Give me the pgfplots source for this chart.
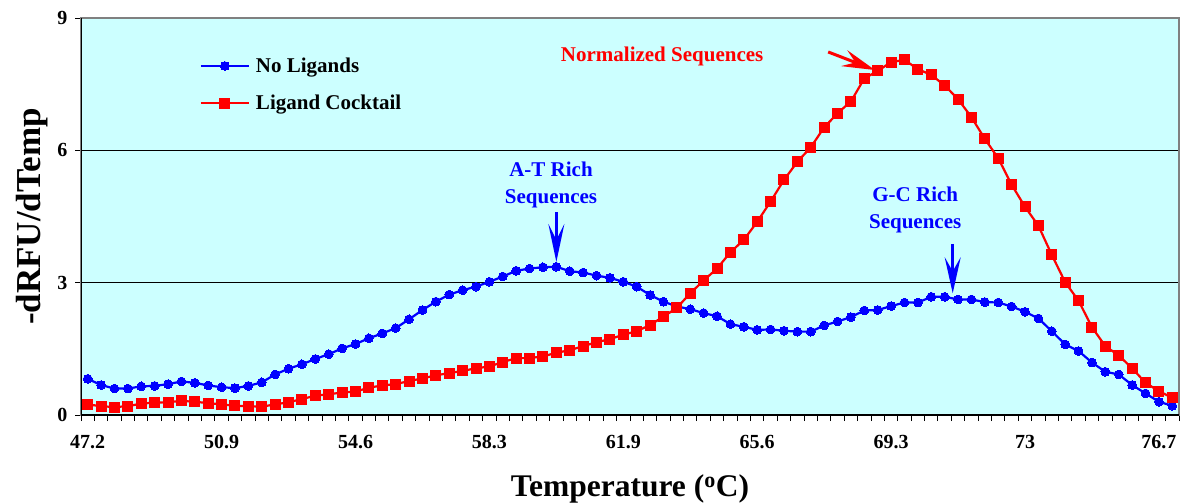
\documentclass[border=0pt]{standalone}
\usepackage{fontspec}
\setmainfont{Liberation Serif}
\usepackage{pgfplots}
\pgfplotsset{compat=1.18}
\usetikzlibrary{arrows.meta}
\definecolor{bgcyan}{RGB}{204,255,255}
\definecolor{axgray}{RGB}{128,128,128}

\pgfplotstableread{
i v
0 0.82
1 0.68
2 0.60
3 0.60
4 0.65
5 0.66
6 0.70
7 0.76
8 0.73
9 0.67
10 0.63
11 0.61
12 0.66
13 0.74
14 0.92
15 1.05
16 1.15
17 1.27
18 1.38
19 1.51
20 1.61
21 1.74
22 1.85
23 1.97
24 2.17
25 2.38
26 2.57
27 2.73
28 2.83
29 2.91
30 3.02
31 3.14
32 3.27
33 3.32
34 3.35
35 3.36
36 3.26
37 3.23
38 3.16
39 3.11
40 3.02
41 2.91
42 2.72
43 2.57
44 2.46
45 2.40
46 2.31
47 2.24
48 2.06
49 2.00
50 1.93
51 1.94
52 1.91
53 1.89
54 1.89
55 2.03
56 2.12
57 2.22
58 2.37
59 2.38
60 2.47
61 2.55
62 2.55
63 2.68
64 2.68
65 2.62
66 2.62
67 2.56
68 2.55
69 2.46
70 2.34
71 2.19
72 1.90
73 1.60
74 1.45
75 1.19
76 0.98
77 0.92
78 0.68
79 0.49
80 0.30
81 0.21
}\noligands

\pgfplotstableread{
i v
0 0.24
1 0.20
2 0.18
3 0.20
4 0.26
5 0.28
6 0.29
7 0.32
8 0.30
9 0.27
10 0.24
11 0.21
12 0.20
13 0.19
14 0.24
15 0.29
16 0.36
17 0.44
18 0.47
19 0.51
20 0.53
21 0.62
22 0.67
23 0.70
24 0.77
25 0.83
26 0.90
27 0.95
28 1.00
29 1.06
30 1.10
31 1.20
32 1.29
33 1.29
34 1.33
35 1.41
36 1.47
37 1.56
38 1.65
39 1.72
40 1.82
41 1.90
42 2.04
43 2.23
44 2.43
45 2.76
46 3.05
47 3.32
48 3.69
49 3.97
50 4.38
51 4.84
52 5.33
53 5.74
54 6.07
55 6.52
56 6.84
57 7.11
58 7.63
59 7.80
60 8.00
61 8.05
62 7.84
63 7.71
64 7.47
65 7.16
66 6.75
67 6.26
68 5.82
69 5.22
70 4.72
71 4.29
72 3.63
73 3.01
74 2.59
75 1.99
76 1.56
77 1.35
78 1.06
79 0.73
80 0.54
81 0.39
}\cocktail

\begin{document}
\begin{tikzpicture}
\begin{axis}[
  scale only axis, width=1098pt, height=397pt,
  xmin=-0.5, xmax=81.5, ymin=0, ymax=9,
  axis background/.style={fill=bgcyan},
  axis line style={draw=axgray, line width=1.5pt},
  xtick={0,10,...,80},
  xticklabels={47.2,50.9,54.6,58.3,61.9,65.6,69.3,73,76.7},
  minor xtick={-0.5,0.5,...,81.5},
  ytick={0,3,6,9},
  minor ytick={0,3,6,9},
  xtick pos=bottom, ytick pos=left,
  tick align=outside,
  major tick length=0pt, minor tick length=6pt,
  tick style={black, line width=1pt},
  ymajorgrids, grid style={black, line width=0.8pt},
  /pgf/number format/assume math mode=true,
  tick label style={font=\bfseries\fontsize{20}{24}\selectfont},
  xticklabel style={anchor=north, yshift=-17pt},
  yticklabel style={anchor=east, xshift=-10pt},
  every axis y label/.style={at={(rel axis cs:0,0.5)}, anchor=center, rotate=90, yshift=49pt},
  every axis x label/.style={at={(rel axis cs:0.5,0)}, anchor=center, yshift=-74pt},
  ylabel={\bfseries\fontsize{35}{40}\selectfont -dRFU/dTemp},
  xlabel={\bfseries\fontsize{31.5}{36}\selectfont Temperature (\textsuperscript{o}C)},
  legend style={draw=none, fill=none, at={(rel axis cs:0.108,0.905)}, anchor=north west,
    font=\bfseries\fontsize{21}{25}\selectfont, row sep=17pt, column sep=4pt, inner sep=0pt},
  legend cell align=left,
  legend image code/.code={
    \draw[#1] (0pt,0pt) -- (48pt,0pt);
    \draw[#1, only marks] plot coordinates {(24pt,0pt)};
  },
]
\addplot[blue, line width=2.2pt, mark=*, mark size=4.4pt, mark options={solid, fill=blue, draw=blue, line width=0pt}] table[x=i,y=v] {\noligands};
\addlegendentry{No Ligands}
\addplot[red, line width=2.2pt, mark=square*, mark size=5pt, mark options={solid, fill=red, draw=red, line width=0pt}] table[x=i,y=v] {\cocktail};
\addlegendentry{Ligand Cocktail}

\draw[black, line width=2pt] (rel axis cs:0,1) -- (rel axis cs:0,0) -- (rel axis cs:1,0);

\node[red, font=\bfseries\fontsize{21}{25}\selectfont] at (axis cs:42.9,8.13) {Normalized Sequences};
\draw[red, line width=3pt, -{Stealth[length=33pt,width=17pt,inset=12pt]}] (axis cs:55.3,8.23) -- (axis cs:58.8,7.82);

\node[blue, align=center, font=\bfseries\fontsize{21}{27}\selectfont] at (axis cs:34.6,5.21) {A-T Rich\\Sequences};
\draw[blue, line width=3pt, -{Stealth[length=38pt,width=16pt,inset=16pt]}] (axis cs:35.0,4.60) -- (axis cs:35.0,3.47);

\node[blue, align=center, font=\bfseries\fontsize{21}{27}\selectfont] at (axis cs:61.8,4.65) {G-C Rich\\Sequences};
\draw[blue, line width=3pt, -{Stealth[length=36pt,width=16pt,inset=14pt]}] (axis cs:64.6,3.88) -- (axis cs:64.6,2.76);

\coordinate (ll) at (rel axis cs:0,0);
\coordinate (ur) at (rel axis cs:1,1);
\end{axis}
\pgfresetboundingbox
\path ([xshift=-81pt,yshift=-87pt]ll) rectangle ([xshift=3pt,yshift=18pt]ur);
\end{tikzpicture}
\end{document}
